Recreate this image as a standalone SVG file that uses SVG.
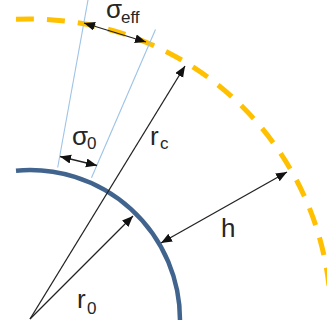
<svg xmlns="http://www.w3.org/2000/svg" width="327" height="327" viewBox="0 0 327 327">
<defs>
<marker id="ah" markerUnits="userSpaceOnUse" markerWidth="12" markerHeight="10" refX="11" refY="4.5" orient="auto-start-reverse">
<path d="M0,0 L11,4.5 L0,9 z" fill="#111"/>
</marker>
<style>
.arr{stroke:#222;stroke-width:1.3;fill:none}
.guide{stroke:#9dc3e6;stroke-width:1.1;fill:none}
.lbl{font-family:"Liberation Sans",Arial,sans-serif;font-size:26px;fill:#262626}
.sub{font-size:17px}
</style>
</defs>
<rect width="327" height="327" fill="#fff"/>
<g id="outer-circle">
<path d="M16,19.3 A301,301 0 0 1 330.8,330" fill="none" stroke="#ffc000" stroke-width="5" stroke-dasharray="18 13"/>
</g>
<g id="inner-circle">
<path d="M16,170.65 A150,150 0 0 1 180,320" fill="none" stroke="#41648f" stroke-width="4.5"/>
</g>
<g id="guides">
<line class="guide" x1="57.7" y1="167.5" x2="88" y2="0"/>
<line class="guide" x1="91.5" y1="177.7" x2="155.5" y2="29.5"/>
</g>
<g id="connectors">
<line class="arr" x1="30" y1="319" x2="185" y2="66" marker-end="url(#ah)"/>
<line class="arr" x1="30" y1="319" x2="133" y2="216" marker-end="url(#ah)"/>
<line class="arr" x1="161" y1="243" x2="287" y2="172" marker-start="url(#ah)" marker-end="url(#ah)"/>
<line class="arr" x1="60" y1="156.5" x2="97" y2="165.5" marker-start="url(#ah)" marker-end="url(#ah)"/>
<line class="arr" x1="84" y1="23" x2="146" y2="42" marker-start="url(#ah)" marker-end="url(#ah)"/>
</g>
<g id="labels">
<text class="lbl" x="106" y="18">σ<tspan class="sub" x="121" y="23">eff</tspan></text>
<text class="lbl" x="72" y="145">σ<tspan class="sub" x="87" y="149">0</tspan></text>
<text class="lbl" x="150" y="145">r<tspan class="sub" x="160" y="149">c</tspan></text>
<text class="lbl" x="221" y="237">h</text>
<text class="lbl" x="77" y="308">r<tspan class="sub" x="87" y="314">0</tspan></text>
</g>
</svg>
